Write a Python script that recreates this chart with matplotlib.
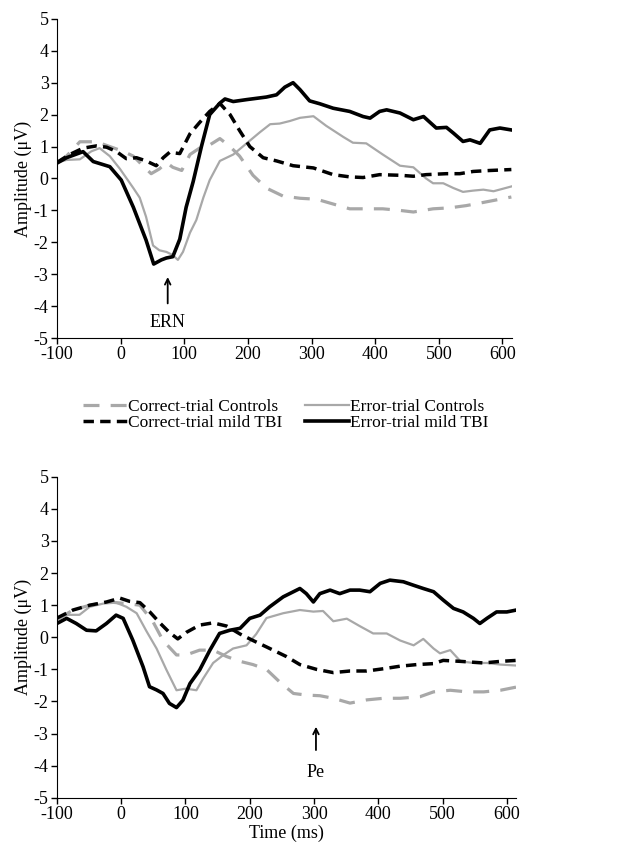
import matplotlib
matplotlib.use("Agg")
import matplotlib.pyplot as plt

plt.rcParams['font.family'] = ['Liberation Serif', 'DejaVu Serif']
plt.rcParams['axes.unicode_minus'] = False

# ---- top panel (ERN) ----
top_err_tbi_t = [-100, -85, -59, -43, -17, 1, 20, 40, 52, 64, 72, 82, 93, 103, 114, 127, 140, 156, 164,
                 177, 198, 229, 245, 258, 271, 282, 297, 313, 334, 360, 381, 392, 407, 418, 439, 460,
                 476, 496, 512, 523, 538, 549, 565, 580, 596, 614]
top_err_tbi = [0.48, 0.65, 0.84, 0.53, 0.37, -0.05, -0.9, -1.93, -2.68, -2.55, -2.49, -2.45, -1.9, -0.9,
               -0.1, 1.0, 2.0, 2.36, 2.49, 2.41, 2.47, 2.55, 2.62, 2.86, 3.0, 2.78, 2.43, 2.34, 2.2, 2.1,
               1.94, 1.89, 2.1, 2.15, 2.05, 1.84, 1.94, 1.58, 1.6, 1.42, 1.16, 1.21, 1.1, 1.52, 1.58, 1.52]

top_err_ctl_t = [-100, -85, -64, -46, -33, -17, -1, 20, 30, 40, 51, 61, 72, 82, 90, 98, 109, 119, 130,
                 140, 156, 177, 198, 219, 235, 250, 266, 282, 303, 323, 350, 365, 386, 412, 439, 460,
                 480, 491, 507, 523, 538, 554, 570, 586, 601, 614]
top_err_ctl = [0.5, 0.58, 0.6, 0.85, 0.95, 0.7, 0.3, -0.3, -0.6, -1.2, -2.1, -2.25, -2.3, -2.4, -2.55,
               -2.3, -1.7, -1.3, -0.6, -0.05, 0.55, 0.75, 1.1, 1.45, 1.7, 1.72, 1.8, 1.9, 1.95, 1.65,
               1.3, 1.12, 1.1, 0.75, 0.4, 0.35, 0.0, -0.15, -0.15, -0.3, -0.42, -0.38, -0.35, -0.4,
               -0.32, -0.25]

top_cor_tbi_t = [-100, -80, -59, -38, -22, -7, 9, 25, 40, 56, 67, 77, 93, 109, 124, 140, 156, 172, 187,
                 203, 224, 245, 271, 303, 334, 360, 381, 407, 439, 460, 480, 512, 533, 554, 580, 614]
top_cor_tbi = [0.5, 0.75, 0.95, 1.02, 0.98, 0.85, 0.62, 0.65, 0.55, 0.4, 0.65, 0.82, 0.78, 1.4, 1.75,
               2.1, 2.35, 2.0, 1.5, 1.0, 0.65, 0.55, 0.4, 0.33, 0.12, 0.05, 0.03, 0.12, 0.1, 0.07,
               0.12, 0.15, 0.15, 0.22, 0.25, 0.28]

top_cor_ctl_t = [-100, -85, -64, -38, -17, 4, 20, 35, 48, 61, 72, 82, 96, 109, 124, 140, 156, 172, 187,
                 208, 229, 255, 282, 308, 334, 360, 386, 412, 439, 460, 491, 517, 543, 570, 596, 614]
top_cor_ctl = [0.5, 0.7, 1.15, 1.15, 1.0, 0.85, 0.7, 0.4, 0.15, 0.3, 0.5, 0.35, 0.25, 0.75, 0.95, 1.05,
               1.25, 1.0, 0.7, 0.1, -0.3, -0.55, -0.62, -0.65, -0.8, -0.95, -0.95, -0.95, -1.0, -1.05,
               -0.95, -0.92, -0.85, -0.75, -0.65, -0.58]

# ---- bottom panel (Pe) ----
bot_err_tbi_t = [-100, -85, -70, -54, -39, -23, -8, 3, 18, 34, 44, 55, 65, 75, 86, 96, 107, 122, 138,
                 153, 169, 185, 200, 216, 231, 252, 268, 278, 288, 299, 309, 325, 340, 356, 371, 387,
                 403, 418, 439, 455, 470, 486, 501, 517, 532, 548, 558, 569, 584, 600, 615]
bot_err_tbi = [0.43, 0.59, 0.43, 0.22, 0.2, 0.43, 0.69, 0.59, -0.09, -0.92, -1.54, -1.64, -1.75, -2.06,
               -2.19, -1.96, -1.44, -1.02, -0.4, 0.12, 0.22, 0.28, 0.59, 0.69, 0.95, 1.26, 1.42, 1.52,
               1.36, 1.1, 1.36, 1.47, 1.36, 1.47, 1.47, 1.42, 1.68, 1.78, 1.73, 1.62, 1.52, 1.42, 1.16,
               0.9, 0.79, 0.59, 0.43, 0.59, 0.79, 0.79, 0.85]

bot_err_ctl_t = [-100, -85, -65, -49, -28, -8, 8, 24, 39, 55, 70, 86, 101, 117, 127, 143, 159, 174, 195,
                 210, 226, 252, 278, 299, 314, 330, 351, 371, 392, 413, 434, 455, 470, 486, 496, 512,
                 528, 548, 569, 590, 615]
bot_err_ctl = [0.55, 0.7, 0.7, 0.95, 1.05, 1.08, 0.95, 0.75, 0.2, -0.35, -1.0, -1.65, -1.6, -1.65, -1.3,
               -0.8, -0.55, -0.35, -0.25, 0.1, 0.6, 0.75, 0.85, 0.8, 0.82, 0.5, 0.58, 0.35, 0.12, 0.12,
               -0.1, -0.25, -0.05, -0.35, -0.5, -0.4, -0.75, -0.8, -0.8, -0.85, -0.88]

bot_cor_tbi_t = [-100, -75, -49, -23, -2, 13, 29, 44, 60, 75, 88, 101, 122, 143, 164, 185, 205, 226,
                 257, 278, 304, 330, 356, 382, 408, 434, 460, 486, 501, 528, 564, 590, 615]
bot_cor_tbi = [0.6, 0.85, 1.0, 1.1, 1.22, 1.12, 1.08, 0.8, 0.45, 0.15, -0.05, 0.15, 0.38, 0.45, 0.35,
               0.1, -0.1, -0.3, -0.6, -0.85, -1.0, -1.1, -1.05, -1.05, -0.98, -0.9, -0.85, -0.82,
               -0.72, -0.75, -0.8, -0.75, -0.72]

bot_cor_ctl_t = [-100, -75, -49, -18, 8, 29, 49, 65, 86, 101, 122, 143, 164, 185, 205, 226, 247, 268,
                 288, 309, 330, 356, 382, 408, 434, 465, 486, 512, 538, 564, 590, 615]
bot_cor_ctl = [0.55, 0.85, 1.0, 1.1, 1.05, 1.0, 0.5, -0.1, -0.55, -0.55, -0.4, -0.4, -0.6, -0.75, -0.85,
               -1.0, -1.4, -1.75, -1.8, -1.82, -1.9, -2.05, -1.95, -1.9, -1.9, -1.85, -1.7, -1.65, -1.7,
               -1.7, -1.65, -1.55]

labels = ['Correct-trial Controls', 'Error-trial Controls',
          'Correct-trial mild TBI', 'Error-trial mild TBI']

GRAY = '#a8a8a8'
FS = 13

fig = plt.figure(figsize=(6.4, 8.56), dpi=100)
ax1 = fig.add_axes([0.089, 0.605, 0.711, 0.373])
ax2 = fig.add_axes([0.089, 0.068, 0.718, 0.375])


def draw(ax, data):
    (cc_t, cc), (ec_t, ec), (ct_t, ct), (et_t, et) = data
    h1, = ax.plot(cc_t, cc, color=GRAY, lw=2.3, dashes=(5, 3.5))
    h2, = ax.plot(ec_t, ec, color=GRAY, lw=1.6)
    h3, = ax.plot(ct_t, ct, color='black', lw=2.5, dashes=(3, 1.8))
    h4, = ax.plot(et_t, et, color='black', lw=2.6)
    ax.set_xlim(-100, 615)
    ax.set_ylim(-5, 5)
    ax.set_xticks(range(-100, 601, 100))
    ax.set_yticks(range(-5, 6))
    for s in ['top', 'right']:
        ax.spines[s].set_visible(False)
    ax.tick_params(labelsize=FS, direction='out', length=4, width=1, pad=2)
    ax.set_ylabel('Amplitude (μV)', fontsize=FS, labelpad=1)
    return [h1, h2, h3, h4]


handles = draw(ax1, [(top_cor_ctl_t, top_cor_ctl), (top_err_ctl_t, top_err_ctl),
                     (top_cor_tbi_t, top_cor_tbi), (top_err_tbi_t, top_err_tbi)])
draw(ax2, [(bot_cor_ctl_t, bot_cor_ctl), (bot_err_ctl_t, bot_err_ctl),
           (bot_cor_tbi_t, bot_cor_tbi), (bot_err_tbi_t, bot_err_tbi)])
ax2.set_xlabel('Time (ms)', fontsize=FS, labelpad=1)

# arrows
ax1.annotate('', xy=(74, -3.0), xytext=(74, -4.0),
             arrowprops=dict(arrowstyle='->', color='black', lw=1.3))
ax1.text(74, -4.5, 'ERN', ha='center', va='center', fontsize=FS)
ax2.annotate('', xy=(303, -2.7), xytext=(303, -3.6),
             arrowprops=dict(arrowstyle='->', color='black', lw=1.3))
ax2.text(303, -4.2, 'Pe', ha='center', va='center', fontsize=FS)

order = [0, 2, 1, 3]
fig.legend([handles[i] for i in order], [labels[i] for i in order], ncol=2,
           loc='center', bbox_to_anchor=(0.447, 0.515), frameon=False, fontsize=12.5,
           handlelength=2.5, handletextpad=0.1, columnspacing=1.3, labelspacing=0.0)

fig.savefig('out.png', dpi=100)
